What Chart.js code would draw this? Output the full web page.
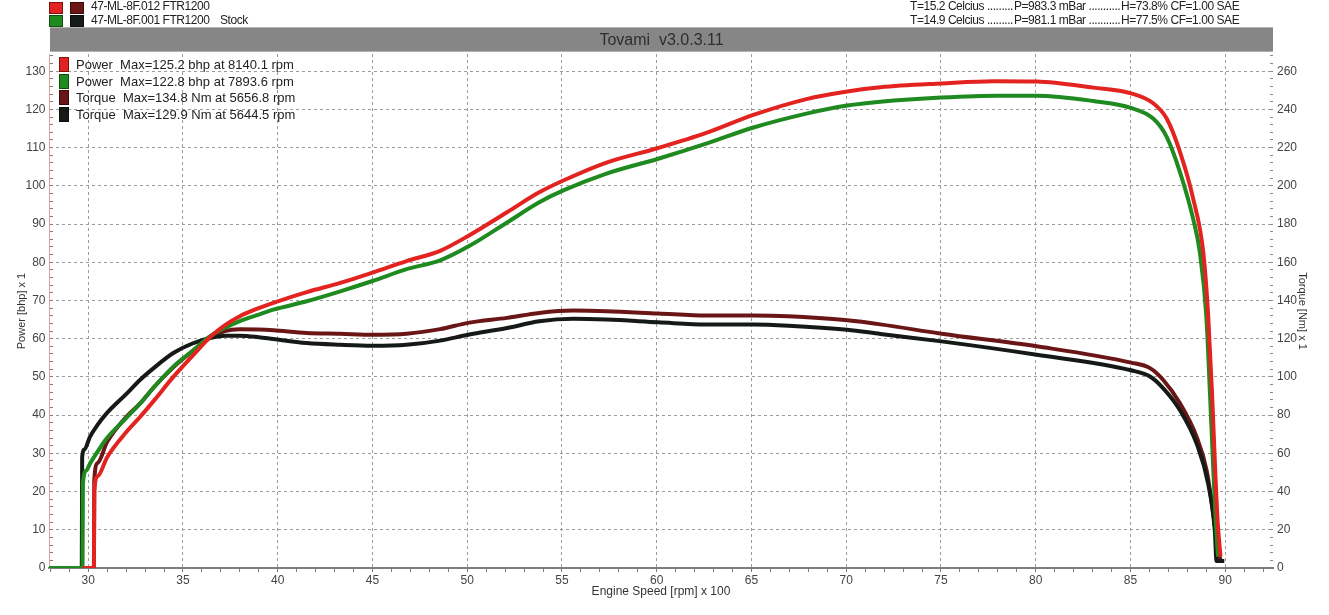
<!DOCTYPE html>
<html>
<head>
<meta charset="utf-8">
<script src="https://cdn.jsdelivr.net/npm/chart.js@4.4.1/dist/chart.umd.min.js"></script>
<style>
html,body{margin:0;padding:0;background:#fff;}
#wrap{position:relative;width:1329px;height:615px;overflow:hidden;font-family:"Liberation Sans",Arial,sans-serif;color:#222;}
#c{position:absolute;left:0;top:0;}
.abs{position:absolute;white-space:pre;}
.sq{position:absolute;box-sizing:border-box;border:1px solid rgba(0,0,0,0.45);}
.hdr{font-size:12px;line-height:13px;color:#222;letter-spacing:-0.45px;}
#titlebar{position:absolute;left:50px;top:27px;width:1223px;height:25px;background:#868686;border-top:1px solid #b5b5b5;border-bottom:1px solid #b0b0b0;box-sizing:border-box;text-align:center;font-size:16px;line-height:23px;color:#2e2e2e;white-space:pre;}
.leg{font-size:13px;line-height:16px;color:#222;}
</style>
</head>
<body>
<div id="wrap">
  <canvas id="c" width="1329" height="615"></canvas>
  <div id="overlay"></div>
</div>
<script>
// ---- data ----
const seriesColors = ['#e3231f', '#1f8a1f', '#6b1616', '#161a16']; // mod power, stock power, mod torque, stock torque
const runNames = ['47-ML-8F.012 FTR1200', '47-ML-8F.001 FTR1200'];
const runNotes = ['', 'Stock'];
const condT = ['T=15.2 Celcius .........', 'T=14.9 Celcius .........'];
const condP = ['P=983.3 mBar ...........', 'P=981.1 mBar ...........'];
const condH = ['H=73.8% CF=1.00 SAE', 'H=77.5% CF=1.00 SAE'];
const titleText = 'Tovami  v3.0.3.11';
const legendLabels = [
  'Power  Max=125.2 bhp at 8140.1 rpm',
  'Power  Max=122.8 bhp at 7893.6 rpm',
  'Torque  Max=134.8 Nm at 5656.8 rpm',
  'Torque  Max=129.9 Nm at 5644.5 rpm'
];
const xTitle = 'Engine Speed [rpm] x 100';
const yLeftTitle = 'Power [bhp] x 1';
const yRightTitle = 'Torque [Nm] x 1';

const modPowerRpm = [29.7,30.3,30.32,30.5,31,32,32.73,33.5,34.49,35.5,36.42,37.2,38,39,39.77,41.53,43.3,45,46.8,48.57,50.05,52.1,53.8,55.07,57.35,60.08,62.65,65.06,67.9,70.05,71.8,75.03,77.76,80.05,83.03,85.02,86.2,86.91,87.61,88.31,88.84,89.1,89.3,89.45,89.6,89.75];
const modPowerBhp = [0,0,20,24,29,35.5,39.5,44,50,55.5,60.4,63.5,65.9,68,69.4,72.2,74.6,77.3,80.3,83,86.9,93.1,98.3,101.4,106.1,109.9,113.9,118.5,122.7,124.7,125.8,126.8,127.4,127.3,125.7,124.2,121.6,117.6,108.9,96.6,82.6,66,46,28,12,3];

const stockPowerRpm = [27.93,29.7,29.72,29.9,30.09,30.5,30.97,32,32.73,33.5,34.49,35.5,36.42,37.2,38,39,39.77,41.53,43.3,45,46.8,48.57,50.05,52.1,53.8,55.07,57.35,60.08,62.65,65.06,67.9,70.05,71.8,75.03,78,80.05,83.03,85.02,86.2,86.91,87.61,88.31,88.66,89.0,89.2,89.35,89.5,89.62];
const stockPowerBhp = [0,0,22,25.5,27.3,30.5,33.9,39.2,43,47.5,52.7,56.8,60.6,62.8,64.6,66.3,67.6,69.8,72.4,75.1,78.2,80.5,84.1,90.4,95.7,98.8,103.2,107.1,111.1,115.2,118.9,121,122,123.1,123.6,123.6,122.2,120.4,117.6,112.8,103.6,91.3,82.6,66,45,28,12,3];

const modTorqueRpm = [29.7,30.3,30.32,30.5,31,32,32.73,33.5,34.49,35.5,36.42,37.2,38,39,39.77,41.53,43.3,45,46.8,48.57,50.05,52.1,53.8,55.6,57.35,60.08,62.65,65.06,66.95,70.05,71.8,75.03,80.05,85.02,86.03,86.73,87.61,88.49,89.02,89.37,89.63,89.76];
const modTorqueNm = [0,0,46,55,66,79,86,95,105,113.5,120.5,124,125,124.8,124.4,123,122.6,122.1,122.6,125,128.3,130.9,133.5,134.7,134.4,133.2,132.1,132.1,131.7,129.6,127.5,122.6,116,107.5,104.6,98.4,86.2,68.6,51,28.3,9,3.7];

const stockTorqueRpm = [27.93,29.66,29.68,29.8,30.09,30.5,30.97,32,32.73,33.5,34.49,35.5,36.42,37.2,38,39,39.77,41.53,43.3,45,46.8,48.57,50.05,52.1,53.8,55.6,57.35,60.08,62.65,65.06,66.95,70.05,71.8,75.03,80.05,85.02,86.03,86.73,87.61,88.49,89.1,89.45,89.54,89.95];
const stockTorqueNm = [0,0,58,62,68.6,75,80.9,91,98.4,105,112.5,117.5,120.4,121.5,121.6,120.8,119.8,117.7,116.8,116.3,116.8,119,122.1,125.6,129.1,130.4,130,128.6,127.4,127.4,126.8,124.7,122.5,118.6,111.6,103.5,100.2,94,82.6,65.1,44,19.5,3.7,3.7];

// ---- overlay text (HTML) ----
const ov = document.getElementById('overlay');
function add(html){ ov.insertAdjacentHTML('beforeend', html); }
const hdrSq = [[seriesColors[0], seriesColors[2]], [seriesColors[1], seriesColors[3]]];
for (let r = 0; r < 2; r++) {
  const top = 2 + r * 12.5;
  add(`<div class="sq" style="left:49px;top:${top}px;width:14px;height:12px;background:${hdrSq[r][0]}"></div>`);
  add(`<div class="sq" style="left:70px;top:${top}px;width:14px;height:12px;background:${hdrSq[r][1]}"></div>`);
  add(`<div class="abs hdr" style="left:91px;top:${r*13.5}px">${runNames[r]}</div>`);
  if (runNotes[r]) add(`<div class="abs hdr" style="left:220px;top:${r*13.5}px">${runNotes[r]}</div>`);
  add(`<div class="abs hdr" style="left:910px;top:${r*13.5}px">${condT[r]}</div>`);
  add(`<div class="abs hdr" style="left:1014px;top:${r*13.5}px">${condP[r]}</div>`);
  add(`<div class="abs hdr" style="left:1121px;top:${r*13.5}px">${condH[r]}</div>`);
}
add(`<div id="titlebar">${titleText}</div>`);
for (let i = 0; i < legendLabels.length; i++) {
  const top = 57 + i * 16.7;
  add(`<div class="sq" style="left:59px;top:${top}px;width:10px;height:15px;background:${seriesColors[i]}"></div>`);
  add(`<div class="abs leg" style="left:76px;top:${top}px">${legendLabels[i]}</div>`);
}

// ---- chart ----
const FONT = '"Liberation Sans", Arial, sans-serif';
const mk = (xs, ys) => xs.map((x, i) => ({x: x, y: ys[i]}));
const gridCol = '#9c9c9c';
const clear = 'rgba(0,0,0,0)';

new Chart(document.getElementById('c'), {
  type: 'line',
  data: {
    datasets: [
      {label: legendLabels[0], data: mk(modPowerRpm, modPowerBhp), borderColor: seriesColors[0], yAxisID: 'y', order: 0},
      {label: legendLabels[1], data: mk(stockPowerRpm, stockPowerBhp), borderColor: seriesColors[1], yAxisID: 'y', order: 1},
      {label: legendLabels[3], data: mk(stockTorqueRpm, stockTorqueNm), borderColor: seriesColors[3], yAxisID: 'y1', order: 2},
      {label: legendLabels[2], data: mk(modTorqueRpm, modTorqueNm), borderColor: seriesColors[2], yAxisID: 'y1', order: 3}
    ]
  },
  options: {
    responsive: false,
    animation: false,
    devicePixelRatio: 1,
    layout: {padding: {top: 54, left: 0, right: 0, bottom: 0}},
    plugins: {legend: {display: false}, tooltip: {enabled: false}, title: {display: false}},
    elements: {
      point: {radius: 0, hoverRadius: 0},
      line: {borderWidth: 4, cubicInterpolationMode: 'monotone', fill: false, borderCapStyle: 'butt', borderJoinStyle: 'round'}
    },
    scales: {
      x: {
        type: 'linear', position: 'bottom', min: 27.93, max: 92.52,
        afterFit: s => { s.height = 47; },
        ticks: {stepSize: 1, autoSkip: false, includeBounds: false, maxTicksLimit: 1000, maxRotation: 0, minRotation: 0, padding: 1,
          color: '#444', font: {size: 12, family: FONT},
          callback: v => (Math.abs(v % 5) < 1e-9 ? String(v) : '')},
        grid: {color: c => (c.tick && Math.abs(c.tick.value % 5) < 1e-9 ? gridCol : clear), lineWidth: 1,
          drawTicks: true, tickLength: 4, tickColor: '#7a7a7a', tickWidth: 1, tickBorderDash: []},
        border: {display: true, color: '#7d7d7d', width: 2, dash: [3, 3]},
        title: {display: true, text: xTitle, color: '#333', font: {size: 12, family: FONT}, padding: {top: 0, bottom: 16}}
      },
      y: {
        type: 'linear', position: 'left', min: 0, max: 134.5,
        afterFit: s => { s.width = 49; },
        ticks: {stepSize: 2, autoSkip: false, includeBounds: false, maxTicksLimit: 1000, padding: 7.5,
          color: '#444', font: {size: 12, family: FONT},
          callback: v => (v % 10 === 0 ? String(v) : '')},
        grid: {color: c => (c.tick && c.tick.value % 10 === 0 && c.tick.value > 0 ? gridCol : clear), lineWidth: 1,
          drawTicks: true, tickLength: -4, tickColor: '#8a7a7a', tickWidth: 1, tickBorderDash: []},
        border: {display: true, color: '#d9a2a2', width: 1, dash: [3, 3]},
        title: {display: true, text: yLeftTitle, color: '#333', font: {size: 11, family: FONT}, padding: {top: 15, bottom: 0}}
      },
      y1: {
        type: 'linear', position: 'right', min: 0, max: 269,
        afterFit: s => { s.width = 56; },
        ticks: {stepSize: 4, autoSkip: false, includeBounds: false, maxTicksLimit: 1000, padding: 7,
          color: '#444', font: {size: 12, family: FONT},
          callback: v => (v % 20 === 0 ? String(v) : '')},
        grid: {drawOnChartArea: false, color: clear, drawTicks: true, tickLength: -3, tickColor: '#8a8a8a', tickWidth: 1, tickBorderDash: []},
        border: {display: false},
        title: {display: true, text: yRightTitle, color: '#333', font: {size: 11, family: FONT}, padding: {top: 20, bottom: 0}}
      }
    }
  }
});
</script>
</body>
</html>
